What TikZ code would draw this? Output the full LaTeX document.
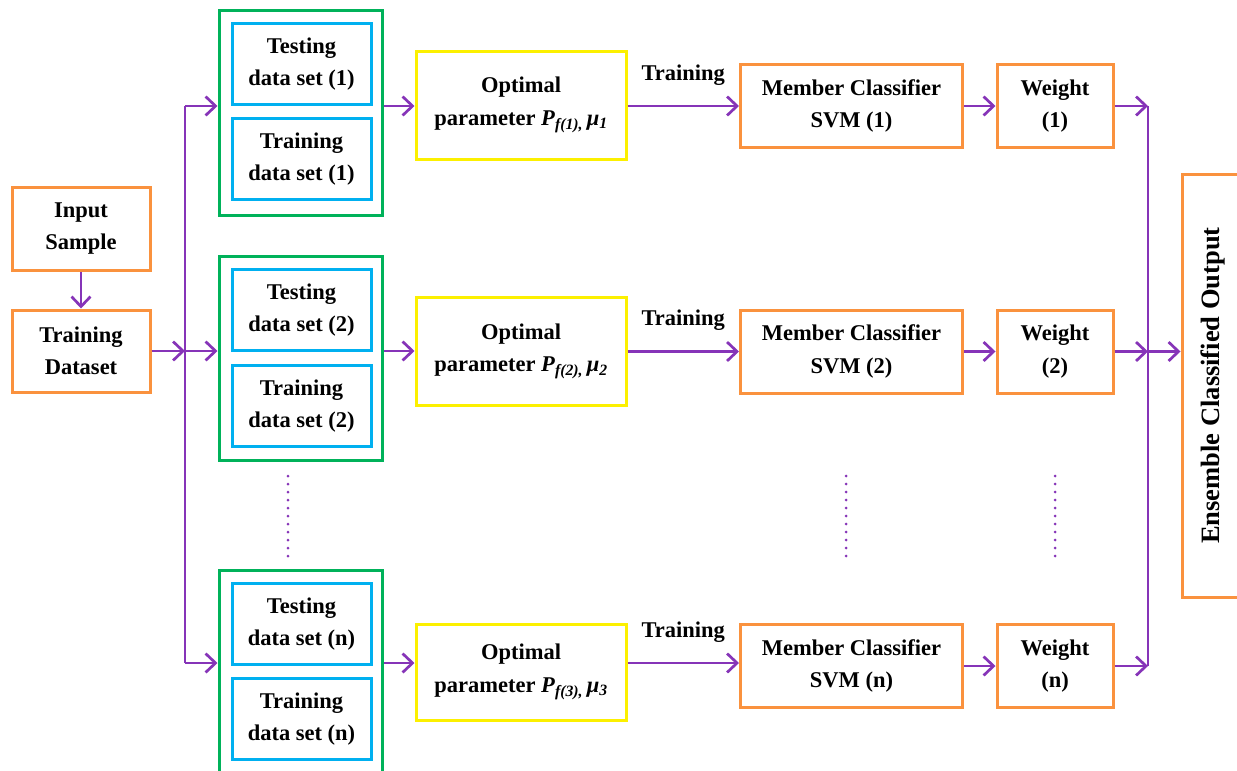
\documentclass[tikz,border=0pt]{standalone}
\usepackage{fontspec}
\setmainfont{Liberation Serif}
\usetikzlibrary{arrows.meta}
\definecolor{flow}{RGB}{134,52,184}
\definecolor{orangeC}{RGB}{250,146,62}
\definecolor{greenC}{RGB}{0,178,90}
\definecolor{blueC}{RGB}{0,176,240}
\definecolor{yellowC}{RGB}{252,240,0}
\tikzset{
  box/.style={rectangle, draw, line width=3pt, align=center, inner sep=0pt,
    font=\bfseries\fontsize{22.5}{32.5}\selectfont},
  obox/.style={box, draw=orangeC},
  gbox/.style={box, draw=greenC, minimum width=163pt},
  bbox/.style={box, draw=blueC, minimum width=139pt, minimum height=81pt},
  ybox/.style={box, draw=yellowC, minimum width=210pt},
  mbox/.style={obox, minimum width=222pt, minimum height=83pt},
  wbox/.style={obox, minimum width=116pt, minimum height=83pt},
  lbl/.style={font=\bfseries\fontsize{22.5}{32}\selectfont, inner sep=0pt},
  link/.style={draw=flow, line width=2.7pt},
  arr/.style={link, -{Straight Barb[length=10pt,width=19pt,line width=2.7pt]}},
  dotline/.style={draw=flow, line width=3pt, line cap=round, dash pattern=on 0pt off 8pt},
}
\newcommand{\optpar}[2]{Optimal\\parameter \textit{P}\textsubscript{\textit{f(#1),}}\,\textit{μ}\textsubscript{\textit{#2}}}
\begin{document}
\begin{tikzpicture}[x=1pt,y=-1pt]
  \clip (0,0) rectangle (1237,771);
  \fill[white] (0,0) rectangle (1237,771);

  % input stage
  \node[obox, minimum width=138pt, minimum height=83pt] (inp) at (81,228.5) {Input\\Sample};
  \node[obox, minimum width=138pt, minimum height=82pt] (tds) at (81,351) {Training\\Dataset};

  % data set groups
  \node[gbox, minimum height=205pt] (g1) at (300.5,112.5) {};
  \node[bbox] (t1) at (301.5,64) {Testing\\data set (1)};
  \node[bbox] (r1) at (301.5,159) {Training\\data set (1)};

  \node[gbox, minimum height=204pt] (g2) at (300.5,358) {};
  \node[bbox] (t2) at (301.5,310) {Testing\\data set (2)};
  \node[bbox] (r2) at (301.5,406) {Training\\data set (2)};

  \node[gbox, minimum height=210pt] (g3) at (300.5,675) {};
  \node[bbox] (t3) at (301.5,624) {Testing\\data set (n)};
  \node[bbox] (r3) at (301.5,719) {Training\\data set (n)};

  % optimal parameters
  \node[ybox, minimum height=108pt] (y1) at (521,105) {\optpar{1}{1}};
  \node[ybox, minimum height=108pt] (y2) at (521,351.5) {\optpar{2}{2}};
  \node[ybox, minimum height=96pt] (y3) at (521,672) {\optpar{3}{3}};

  % member classifiers and weights
  \node[mbox] (m1) at (851.5,106) {Member Classifier\\SVM (1)};
  \node[mbox] (m2) at (851.5,351.5) {Member Classifier\\SVM (2)};
  \node[mbox] (m3) at (851.5,666) {Member Classifier\\SVM (n)};
  \node[wbox] (w1) at (1055,106) {Weight\\(1)};
  \node[wbox] (w2) at (1055,351.5) {Weight\\(2)};
  \node[wbox] (w3) at (1055,666) {Weight\\(n)};

  % ensemble output
  \node[obox, rotate=90, minimum width=423pt, minimum height=62pt,
        font=\bfseries\fontsize{26.5}{31}\selectfont] (ens) at (1213,385.5) {Ensemble Classified Output};

  % split bus
  \coordinate (sl1) at (185,106);
  \coordinate (sl2) at (185,351);
  \coordinate (sl3) at (185,663);
  \draw[link] (sl1) -- (sl3);
  \draw[arr] (inp) -- (tds);
  \draw[arr] (tds.east |- sl2) -- (sl2);
  \draw[arr] (sl1) -- (sl1 -| g1.west);
  \draw[arr] (sl2) -- (sl2 -| g2.west);
  \draw[arr] (sl3) -- (sl3 -| g3.west);

  % groups to optimal parameters
  \draw[arr] (sl1 -| g1.east) -- (sl1 -| y1.west);
  \draw[arr] (sl2 -| g2.east) -- (sl2 -| y2.west);
  \draw[arr] (sl3 -| g3.east) -- (sl3 -| y3.west);

  % training arrows
  \draw[arr] (y1.east |- m1.west) -- node[lbl, yshift=31pt] {Training} (m1.west);
  \draw[arr] (y2.east |- m2.west) -- node[lbl, yshift=31pt] {Training} (m2.west);
  \draw[arr] (y3.east |- sl3) -- node[lbl, yshift=31pt] {Training} (m3.west |- sl3);

  \draw[arr] (m1) -- (w1);
  \draw[arr] (m2) -- (w2);
  \draw[arr] (m3) -- (w3);

  % merge bus
  \coordinate (sr1) at (1148,106);
  \coordinate (sr2) at (1148,351.5);
  \coordinate (sr3) at (1148,666);
  \draw[link] (sr1) -- (sr3);
  \draw[arr] (w1.east) -- (sr1);
  \draw[arr] (w2.east) -- (sr2);
  \draw[arr] (w3.east) -- (sr3);
  \draw[arr] (sr2) -- (sr2 -| ens.north);

  % ellipsis markers
  \draw[dotline] (288,476) -- (288,556);
  \draw[dotline] (846,476) -- (846,556);
  \draw[dotline] (1055,476) -- (1055,556);
\end{tikzpicture}
\end{document}
